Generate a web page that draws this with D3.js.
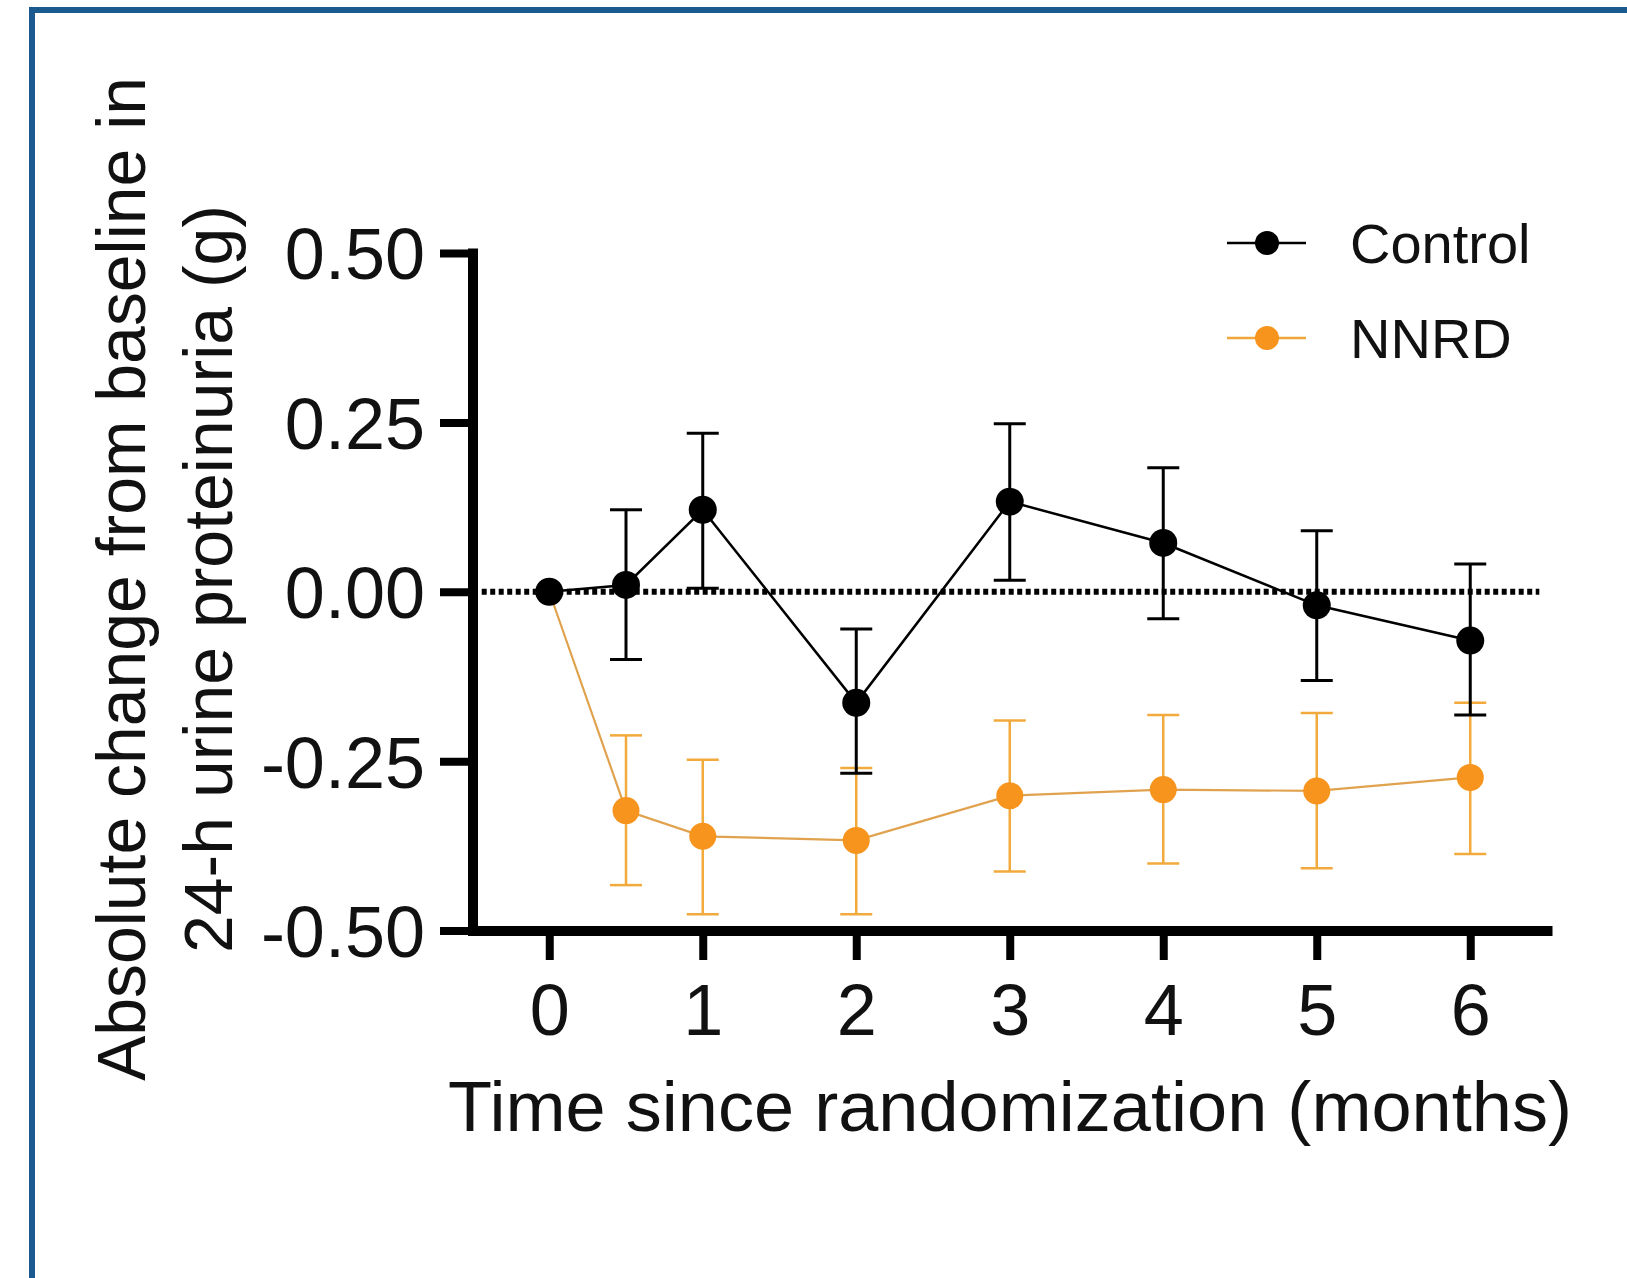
<!DOCTYPE html>
<html>
<head>
<meta charset="utf-8">
<script src="https://cdn.jsdelivr.net/npm/d3@7"></script>
<style>
  body { margin: 0; background: #fff; }
  svg { display: block; font-family: "Liberation Sans", Arial, sans-serif; }
</style>
</head>
<body>
<div id="content"></div>
<script>
// values (g)
var months = [0, 0.5, 1, 2, 3, 4, 5, 6];
var xTicks = [0, 1, 2, 3, 4, 5, 6];
var yTicks = [0.50, 0.25, 0.00, -0.25, -0.50];

var controlMean  = [0, 0.010, 0.121, -0.164, 0.133, 0.072, -0.020, -0.072];
var controlUpper = [null, 0.121, 0.234, -0.055, 0.248, 0.183, 0.090, 0.041];
var controlLower = [null, -0.100, 0.005, -0.268, 0.017, -0.040, -0.131, -0.182];

var nnrdMean  = [0, -0.323, -0.361, -0.367, -0.301, -0.292, -0.294, -0.274];
var nnrdUpper = [null, -0.212, -0.248, -0.260, -0.190, -0.182, -0.179, -0.164];
var nnrdLower = [null, -0.433, -0.476, -0.476, -0.413, -0.401, -0.408, -0.387];

var seriesNames = ['Control', 'NNRD'];

var width = 1627;
var height = 1278;

var svg = d3.select('#content')
  .append('svg')
  .attr('width', width)
  .attr('height', height);

// blue frame (cropped on the right and bottom)
svg.append('rect')
  .attr('x', 32).attr('y', 10)
  .attr('width', width + 20).attr('height', height + 20)
  .attr('fill', 'none')
  .attr('stroke', '#1b5a8e')
  .attr('stroke-width', 6);

var x = d3.scaleLinear().domain([-0.5, 6.5]).range([472.5, 1547]);
var y = d3.scaleLinear().domain([-0.5, 0.5]).range([930.5, 253]);

function rows(mean, up, lo) {
  return months.map(function (m, i) {
    return {m: m, v: mean[i], up: up[i], lo: lo[i]};
  });
}
var control = rows(controlMean, controlUpper, controlLower);
var nnrd = rows(nnrdMean, nnrdUpper, nnrdLower);

// zero reference line
svg.append('line')
  .attr('x1', x(-0.44)).attr('x2', x(6.45))
  .attr('y1', y(0)).attr('y2', y(0))
  .attr('stroke', '#000')
  .attr('stroke-width', 6)
  .attr('stroke-dasharray', '5,3.5');

function drawSeries(data, color, barColor, lineW, barW, r) {
  var g = svg.append('g');
  var bars = data.filter(function (d) { return d.up !== null; });
  g.selectAll('.eb').data(bars).enter().append('line')
    .attr('x1', function (d) { return x(d.m); })
    .attr('x2', function (d) { return x(d.m); })
    .attr('y1', function (d) { return y(d.up); })
    .attr('y2', function (d) { return y(d.lo); })
    .attr('stroke', barColor).attr('stroke-width', barW);
  ['up', 'lo'].forEach(function (k) {
    g.selectAll('.cap-' + k).data(bars).enter().append('line')
      .attr('x1', function (d) { return x(d.m) - 16; })
      .attr('x2', function (d) { return x(d.m) + 16; })
      .attr('y1', function (d) { return y(d[k]); })
      .attr('y2', function (d) { return y(d[k]); })
      .attr('stroke', barColor).attr('stroke-width', barW);
  });
  g.append('path')
    .datum(data)
    .attr('fill', 'none')
    .attr('stroke', color)
    .attr('stroke-width', lineW)
    .attr('d', d3.line().x(function (d) { return x(d.m); }).y(function (d) { return y(d.v); }));
  g.selectAll('circle').data(data).enter().append('circle')
    .attr('cx', function (d) { return x(d.m); })
    .attr('cy', function (d) { return y(d.v); })
    .attr('r', r)
    .attr('fill', color === '#000' ? '#000' : '#f7941d');
}

drawSeries(nnrd, '#e0a24e', '#f2aa3c', 2.2, 2.5, 13.5);
drawSeries(control, '#000', '#000', 2.5, 3, 14);

// axes
var xAxis = d3.axisBottom(x).tickValues(xTicks).tickFormat(d3.format('d'))
  .tickSizeOuter(0).tickSizeInner(29.5).tickPadding(24);
var gx = svg.append('g')
  .attr('transform', 'translate(0,' + y(-0.5) + ')')
  .call(xAxis);

var yAxis = d3.axisLeft(y).tickValues(yTicks)
  .tickFormat(function (d) { return d3.format('.2f')(d).replace('\u2212', '-'); })
  .tickSizeOuter(0).tickSizeInner(32.5).tickPadding(15);
var gy = svg.append('g')
  .attr('transform', 'translate(' + x(-0.5) + ',0)')
  .call(yAxis);

[gx, gy].forEach(function (g) {
  g.attr('font-family', null).attr('font-size', null);
  g.select('.domain').attr('stroke-width', 10).attr('stroke-linecap', 'square');
  g.selectAll('.tick line').attr('stroke-width', 8);
  g.selectAll('.tick text').attr('font-size', 72).attr('fill', '#111');
});
gy.selectAll('.tick text').attr('dy', '0.36em');

// axis titles
svg.append('text')
  .attr('x', 448).attr('y', 1131)
  .attr('font-size', 70)
  .attr('textLength', 1124)
  .attr('lengthAdjust', 'spacingAndGlyphs')
  .attr('fill', '#111')
  .text('Time since randomization (months)');

var yTitle = [
  {t: 'Absolute change from baseline in', base: 145, len: 1004},
  {t: '24-h urine proteinuria (g)', base: 232, len: 748}
];
svg.selectAll('.ytitle').data(yTitle).enter().append('text')
  .attr('transform', function (d) { return 'translate(' + d.base + ',579) rotate(-90)'; })
  .attr('text-anchor', 'middle')
  .attr('font-size', 68)
  .attr('textLength', function (d) { return d.len; })
  .attr('lengthAdjust', 'spacingAndGlyphs')
  .attr('fill', '#111')
  .text(function (d) { return d.t; });

// legend
var legend = svg.selectAll('.legend')
  .data(seriesNames).enter().append('g')
  .attr('transform', function (d, i) { return 'translate(0,' + (243 + i * 95) + ')'; });
legend.append('line')
  .attr('x1', 1227).attr('x2', 1306)
  .attr('stroke', function (d, i) { return i ? '#f0a63a' : '#000'; })
  .attr('stroke-width', 2.5);
legend.append('circle')
  .attr('cx', 1267).attr('r', 12)
  .attr('fill', function (d, i) { return i ? '#f7941d' : '#000'; });
legend.append('text')
  .attr('x', 1350).attr('y', 20)
  .attr('font-size', 56)
  .attr('fill', '#111')
  .text(function (d) { return d; });
</script>
</body>
</html>
